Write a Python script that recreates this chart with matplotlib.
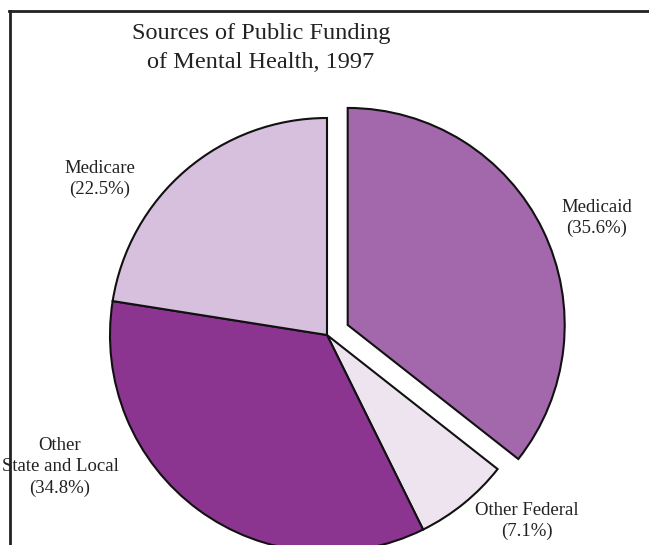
import matplotlib.pyplot as plt
from matplotlib.lines import Line2D

# data, clockwise from 12 o'clock
sources = ['Medicaid', 'Other Federal', 'Other State and Local', 'Medicare']
shares = [35.6, 7.1, 34.8, 22.5]
colors = ['#a368ac', '#eee4f0', '#8b3590', '#d6c0dd']
explode = [0.106, 0, 0, 0]

label_text = ['Medicaid\n(35.6%)', 'Other Federal\n(7.1%)',
              'Other\nState and Local\n(34.8%)', 'Medicare\n(22.5%)']
label_pos = [(597, 218), (527, 521), (60, 467), (100, 179)]  # pixels from top-left

W, H = 649, 545
fig = plt.figure(figsize=(W / 100, H / 100), dpi=100)
ax = fig.add_axes([0, 0, 1, 1])

wedges, _ = ax.pie(shares, colors=colors, explode=explode, startangle=90,
                   counterclock=False,
                   wedgeprops={'edgecolor': '#111111', 'linewidth': 1.5})

# center pie at (327, 335) px with radius 217 px
r, cx, cy = 217.0, 327.0, 335.0
ax.set_xlim(-cx / r, (W - cx) / r)
ax.set_ylim(-(H - cy) / r, cy / r)
ax.set_aspect('auto')
ax.axis('off')

serif = ['Liberation Serif', 'DejaVu Serif']

fig.text(261 / W, 1 - 48 / H, 'Sources of Public Funding\nof Mental Health, 1997',
         ha='center', va='center', fontsize=17.5, family=serif,
         color='#222222', linespacing=1.45)

for txt, (px, py) in zip(label_text, label_pos):
    fig.text(px / W, 1 - py / H, txt, ha='center', va='center',
             fontsize=13.5, family=serif, color='#222222', linespacing=1.35)

# frame: top and left edges only
fig.add_artist(Line2D([9 / W, 1], [1 - 11 / H, 1 - 11 / H],
                      transform=fig.transFigure, color='#222222', lw=2))
fig.add_artist(Line2D([10 / W, 10 / W], [0, 1 - 11 / H],
                      transform=fig.transFigure, color='#222222', lw=2))

fig.savefig('out.png', dpi=100)
